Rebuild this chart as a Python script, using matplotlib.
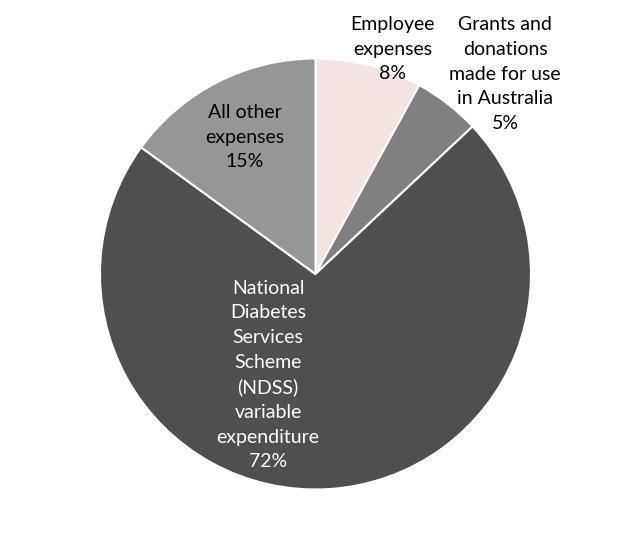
import matplotlib.pyplot as plt

# Expense breakdown (percent)
categories = ['Employee\nexpenses', 'Grants and\ndonations\nmade for use\nin Australia',
              'National\nDiabetes\nServices\nScheme\n(NDSS)\nvariable\nexpenditure',
              'All other\nexpenses']
shares = [8, 5, 72, 15]
colors = ['#F4E5E0', '#808080', '#4F4F4F', '#969696']
text_colors = ['#000000', '#000000', '#FFFFFF', '#000000']

# label anchor points (pixel coords, y from top)
label_pos = [(393, 49), (505, 74), (268, 375), (245, 137)]

plt.rcParams['font.family'] = ['Lato', 'DejaVu Sans']

fig = plt.figure(figsize=(6.29, 5.48), dpi=100)
ax = fig.add_axes([0, 0, 1, 1])

ax.pie(shares, colors=colors, startangle=90, counterclock=False,
       center=(315.5, 274), radius=215.5,
       wedgeprops=dict(edgecolor='white', linewidth=1.5), frame=True)
ax.set_xlim(0, 629)
ax.set_ylim(0, 548)
ax.axis('off')

for cat, val, (px, py), tc in zip(categories, shares, label_pos, text_colors):
    ax.text(px, 548 - py, f'{cat}\n{val}%', ha='center', va='center',
            fontsize=14, color=tc, linespacing=1.54)

fig.savefig('out.png', dpi=100)
